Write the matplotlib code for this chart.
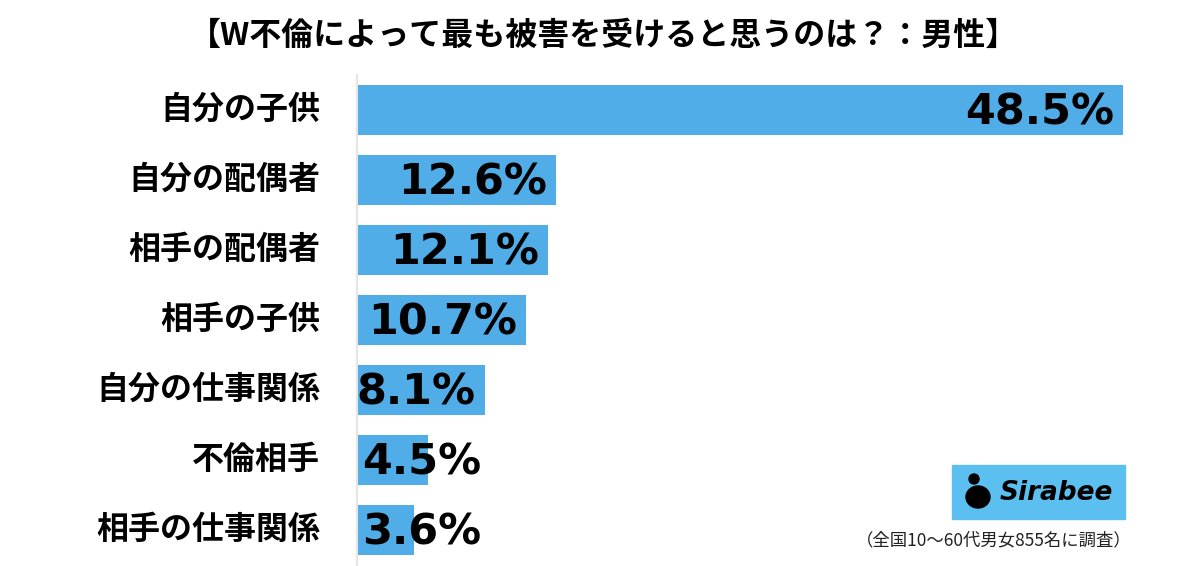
import matplotlib.pyplot as plt
from matplotlib.patches import Rectangle, Ellipse

plt.rcParams['font.family'] = ['Noto Sans CJK JP', 'DejaVu Sans']

# --- DATA ---
title = "【W不倫によって最も被害を受けると思うのは？：男性】"
categories = ["自分の子供", "自分の配偶者", "相手の配偶者", "相手の子供",
              "自分の仕事関係", "不倫相手", "相手の仕事関係"]
values = [48.5, 12.6, 12.1, 10.7, 8.1, 4.5, 3.6]
note = "（全国10〜60代男女855名に調査）"

bar_color = "#50ADE8"
W, H = 1200, 566

fig = plt.figure(figsize=(W / 100, H / 100), dpi=100)
# axes placed in pixel terms: bars start at x=357, rows 70px apart
ax = fig.add_axes([357 / W, (H - 565) / H, 790 / W, 490 / H])

y = list(range(len(categories)))
ax.barh(y, values, height=0.72, color=bar_color, zorder=2)
ax.set_xlim(0, 50)
ax.set_ylim(len(categories) - 0.5, -0.5)

for yi, v, cat in zip(y, values, categories):
    if v >= 6:
        ax.text(v - 0.6, yi + 0.03, f"{v}%", ha="right", va="center",
                fontsize=31, fontweight="bold", family="DejaVu Sans", zorder=3)
    else:
        ax.text(0.3, yi + 0.03, f"{v}%", ha="left", va="center",
                fontsize=31, fontweight="bold", family="DejaVu Sans", zorder=3)
    ax.text(-37 / 15.8, yi, cat, ha="right", va="center",
            fontsize=23, fontweight="bold")

ax.set_xticks([])
ax.set_yticks([])
for s in ["top", "right", "bottom"]:
    ax.spines[s].set_visible(False)
ax.spines["left"].set_color("#e6e6e6")
ax.spines["left"].set_linewidth(1.5)

fig.text(0.503, (H - 36) / H, title, ha="center", va="center",
         fontsize=23, fontweight="bold")

# Sirabee logo box
fig.patches.append(Rectangle((952 / W, (H - 519) / H), 173 / W, 54 / H,
                             transform=fig.transFigure, color="#5BC0F0"))
fig.patches.append(Ellipse((978 / W, (H - 497) / H), 24 / W, 22 / H,
                           transform=fig.transFigure, color="black"))
fig.patches.append(Ellipse((974 / W, (H - 479) / H), 10 / W, 10 / H,
                           transform=fig.transFigure, color="black"))
fig.text(1000 / W, (H - 493) / H, "Sirabee", ha="left", va="center",
         fontsize=19, fontweight="bold", style="italic", family="DejaVu Sans")

fig.text(1132 / W, (H - 540) / H, note, ha="right", va="center",
         fontsize=12.5, color="#222222")

fig.savefig("out.png", dpi=100, facecolor="white")
